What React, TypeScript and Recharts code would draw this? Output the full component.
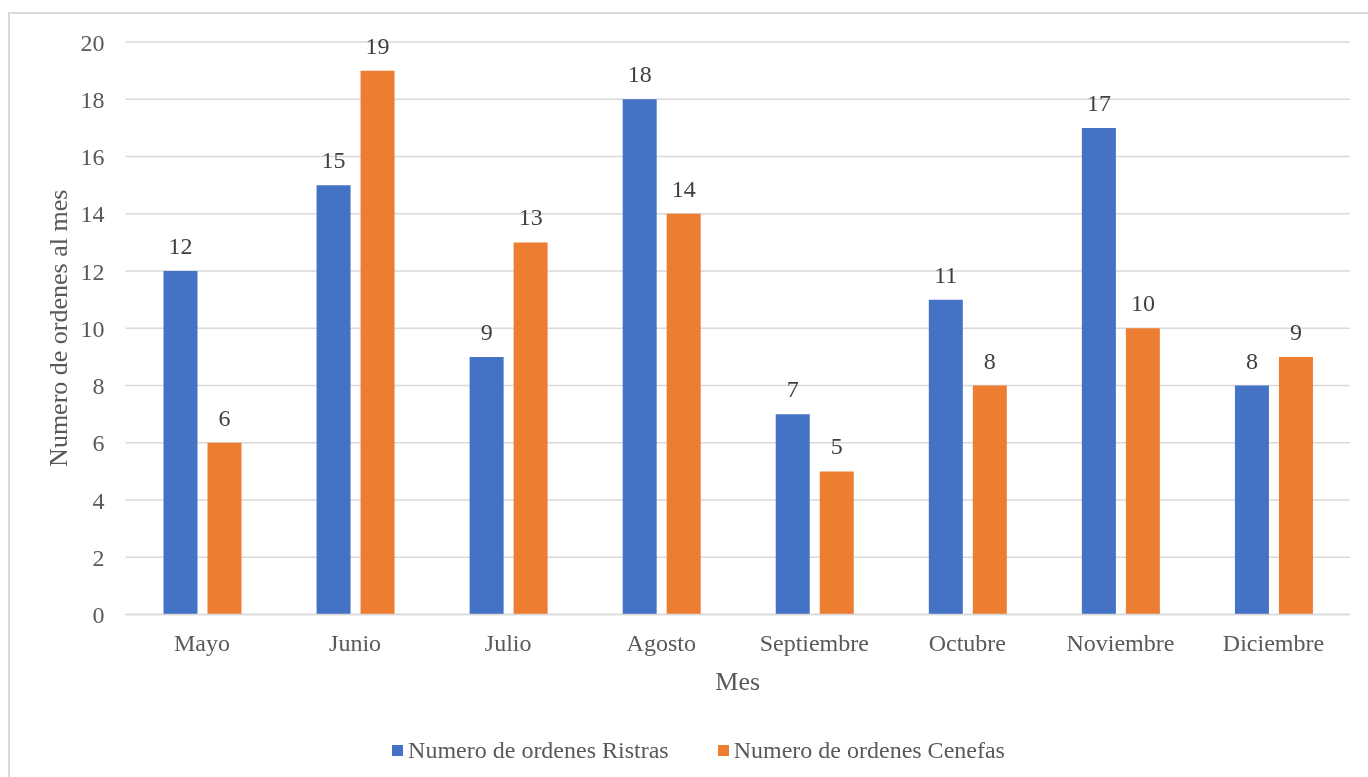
import { BarChart, Bar, XAxis, YAxis, CartesianGrid, LabelList } from "recharts";

const months = ["Mayo", "Junio", "Julio", "Agosto", "Septiembre", "Octubre", "Noviembre", "Diciembre"];
const ristras = [12, 15, 9, 18, 7, 11, 17, 8];
const cenefas = [6, 19, 13, 14, 5, 8, 10, 9];
const yTicks = [0, 2, 4, 6, 8, 10, 12, 14, 16, 18, 20];

const seriesNames = ["Numero de ordenes Ristras", "Numero de ordenes Cenefas"];
const colors = ["#4472C4", "#ED7D31"];

const FONT = '"Liberation Serif", "Times New Roman", serif';
const GRAY = "#595959";

const data = months.map((m, i) => ({ mes: m, ristras: ristras[i], cenefas: cenefas[i] }));

export default function App() {
  return (
    <div>
      <div
        style={{
          position: "fixed",
          left: 8,
          top: 12,
          width: 1400,
          height: 800,
          border: "2px solid #d9d9d9",
          boxSizing: "border-box",
        }}
      />
      <div style={{ position: "fixed", left: 0, top: 0 }}>
        <BarChart
          width={1368}
          height={777}
          data={data}
          margin={{ top: 42, right: 18, bottom: 0, left: 0 }}
          barSize={34}
          barGap={10}
        >
          <CartesianGrid vertical={false} stroke="#d9d9d9" strokeWidth={1.5} />
          <XAxis
            dataKey="mes"
            height={162.5}
            tickLine={false}
            tickSize={0}
            tickMargin={19.5}
            axisLine={{ stroke: "#d9d9d9", strokeWidth: 1.5 }}
            tick={{ fontSize: 24, fill: GRAY, fontFamily: FONT }}
            label={{
              content: (p: any) => (
                <text
                  x={p.viewBox.x + p.viewBox.width / 2}
                  y={690}
                  textAnchor="middle"
                  fontSize={26}
                  fill={GRAY}
                  fontFamily={FONT}
                >
                  Mes
                </text>
              ),
            }}
          />
          <YAxis
            width={125.5}
            domain={[0, 20]}
            ticks={yTicks}
            interval={0}
            tickLine={false}
            axisLine={false}
            tickSize={0}
            tickMargin={21}
            tick={{ fontSize: 24, fill: GRAY, fontFamily: FONT }}
            label={{
              content: (p: any) => {
                const cy = p.viewBox.y + p.viewBox.height / 2;
                return (
                  <text
                    x={67}
                    y={cy}
                    transform={`rotate(-90, 67, ${cy})`}
                    textAnchor="middle"
                    fontSize={26}
                    fill={GRAY}
                    fontFamily={FONT}
                  >
                    Numero de ordenes al mes
                  </text>
                );
              },
            }}
          />
          <Bar dataKey="ristras" name={seriesNames[0]} fill={colors[0]} isAnimationActive={false}>
            <LabelList dataKey="ristras" position="top" offset={17} fill="#404040" fontSize={24} fontFamily={FONT} />
          </Bar>
          <Bar dataKey="cenefas" name={seriesNames[1]} fill={colors[1]} isAnimationActive={false}>
            <LabelList dataKey="cenefas" position="top" offset={17} fill="#404040" fontSize={24} fontFamily={FONT} />
          </Bar>
        </BarChart>
      </div>
      <div
        style={{
          position: "fixed",
          left: 8,
          top: 738,
          width: 1381,
          display: "flex",
          justifyContent: "center",
          fontFamily: FONT,
          fontSize: 24,
          lineHeight: "24px",
          color: GRAY,
        }}
      >
        {seriesNames.map((n, i) => (
          <div key={n} style={{ display: "flex", alignItems: "center", marginLeft: i ? 49 : 0 }}>
            <span style={{ width: 11, height: 11, background: colors[i], marginRight: 5, display: "inline-block" }} />
            <span>{n}</span>
          </div>
        ))}
      </div>
    </div>
  );
}
